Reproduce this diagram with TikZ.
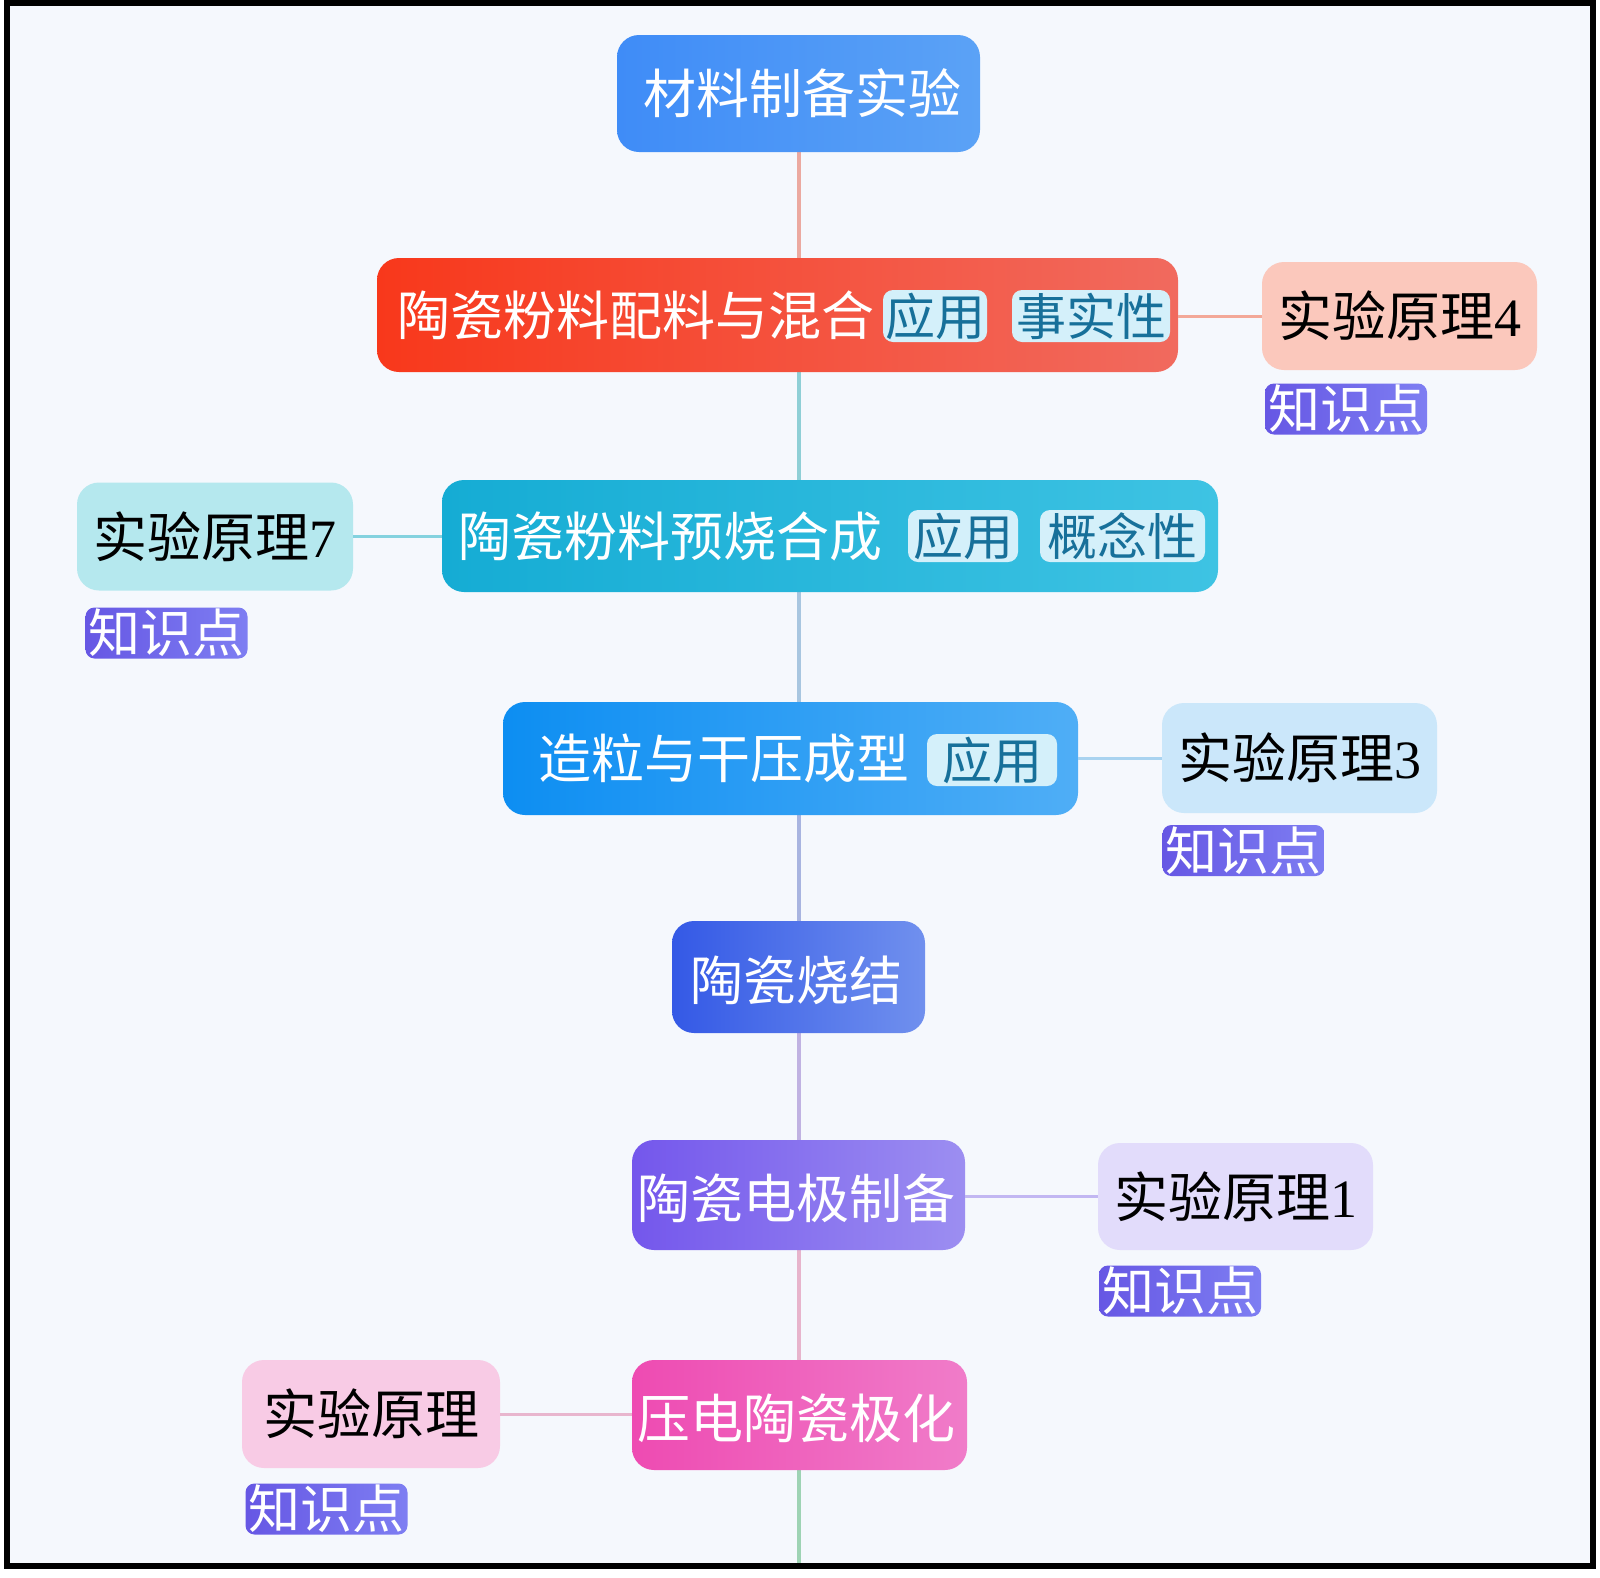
\documentclass[tikz,border=0pt]{standalone}
\usepackage{fontspec}
\setmainfont{Liberation Serif}
\newfontfamily\cjk{Noto Sans CJK SC}
\definecolor{bgc}{HTML}{F5F8FD}
\definecolor{tagfill}{HTML}{D4F0FA}
\definecolor{tagtext}{HTML}{17709A}
\definecolor{kfillA}{HTML}{6657E4}
\definecolor{kfillB}{HTML}{7E7EF2}
\definecolor{topA}{HTML}{3F8CF7}\definecolor{topB}{HTML}{5BA2F6}
\definecolor{aA}{HTML}{F8381B}\definecolor{aB}{HTML}{F16A5E}
\definecolor{bA}{HTML}{15ACD4}\definecolor{bB}{HTML}{3EC3E3}
\definecolor{cA}{HTML}{0D8EF2}\definecolor{cB}{HTML}{4FAEF6}
\definecolor{dA}{HTML}{3459E6}\definecolor{dB}{HTML}{7090EE}
\definecolor{eA}{HTML}{7457EC}\definecolor{eB}{HTML}{9C8EF1}
\definecolor{fA}{HTML}{EE4BB2}\definecolor{fB}{HTML}{F07CC9}
\definecolor{p4c}{HTML}{FBC8BC}\definecolor{p7c}{HTML}{B5E8EE}
\definecolor{p3c}{HTML}{CBE7FA}\definecolor{p1c}{HTML}{E2DCFB}
\definecolor{p0c}{HTML}{F8CBE5}
\definecolor{s1}{HTML}{EBA9A0}\definecolor{s2}{HTML}{8FCFD6}
\definecolor{s3}{HTML}{A8C6E0}\definecolor{s4}{HTML}{A8B4E0}
\definecolor{s5}{HTML}{C0B2E2}\definecolor{s6}{HTML}{E7B4CC}
\definecolor{s7}{HTML}{9ED3B4}
\definecolor{l4}{HTML}{F3A898}\definecolor{l7}{HTML}{84D2DF}
\definecolor{l3}{HTML}{A9D3F0}\definecolor{l1}{HTML}{C2B7F2}
\definecolor{l0}{HTML}{E8B6CE}
\tikzset{
  mainbox/.style={rounded corners=22pt, inner sep=0pt, draw=none},
  sidebox/.style={rounded corners=22pt, inner sep=0pt, draw=none, minimum width=275pt, minimum height=108pt, text=black,
     font=\fontsize{54}{54}\selectfont},
  maintext/.style={text=white, inner sep=0pt, font=\fontsize{53}{53}\selectfont\cjk},
  tagbox/.style={rounded corners=10pt, inner sep=0pt, fill=tagfill, text=tagtext, minimum height=52pt,
     font=\fontsize{50}{50}\selectfont\cjk},
  kbox/.style={rounded corners=9pt, inner sep=0pt, left color=kfillA, right color=kfillB, text=white,
     minimum width=162pt, minimum height=51pt, font=\fontsize{52}{52}\selectfont\cjk},
  spine/.style={line width=4pt},
  link/.style={line width=3pt},
}
\begin{document}
\begin{tikzpicture}[x=1pt,y=-1pt]
\useasboundingbox (0,0) rectangle (1600,1577);
\fill[white] (0,0) rectangle (1600,1577);
\fill[bgc] (6.5,3) rectangle (1593,1566);
\coordinate (sx) at (799,0);
\coordinate (bot) at (799,1563);
% spine
\draw[spine, s1] (sx |- 0,150) -- (sx |- 0,260);
\draw[spine, s2] (sx |- 0,370) -- (sx |- 0,482);
\draw[spine, s3] (sx |- 0,590) -- (sx |- 0,704);
\draw[spine, s4] (sx |- 0,813) -- (sx |- 0,923);
\draw[spine, s5] (sx |- 0,1031) -- (sx |- 0,1142);
\draw[spine, s6] (sx |- 0,1248) -- (sx |- 0,1362);
\draw[spine, s7] (sx |- 0,1468) -- (bot);
% nodes
\node[mainbox, left color=topA, right color=topB, minimum width=363pt, minimum height=117pt] (top) at (798.5,93.5) {};
\node[maintext] (topt) at (802,93.5) {材料制备实验};

\node[mainbox, left color=aA, right color=aB, minimum width=801pt, minimum height=114pt] (n1) at (777.5,315) {};
\node[maintext] (n1t) at (636,315) {陶瓷粉料配料与混合};
\node[tagbox, minimum width=104pt] (n1a) at (935,316) {应用};
\node[tagbox, minimum width=158pt] (n1b) at (1091,316) {事实性};

\node[sidebox, fill=p4c] (p4) at (1399.5,316) {{\cjk 实验原理}4};
\node[kbox] (k4) at (1346,409) {知识点};

\node[mainbox, left color=bA, right color=bB, minimum width=776pt, minimum height=112pt] (n2) at (830,536) {};
\node[maintext] (n2t) at (670,536) {陶瓷粉料预烧合成};
\node[tagbox, minimum width=110pt] (n2a) at (963,536) {应用};
\node[tagbox, minimum width=165pt] (n2b) at (1122.5,536) {概念性};

\node[sidebox, fill=p7c, minimum width=276pt] (p7) at (215,536.5) {{\cjk 实验原理}7};
\node[kbox] (k7) at (166.5,633) {知识点};

\node[mainbox, left color=cA, right color=cB, minimum width=575pt, minimum height=113pt] (n3) at (790.5,758.5) {};
\node[maintext] (n3t) at (724,758.5) {造粒与干压成型};
\node[tagbox, minimum width=130pt] (n3a) at (992,760) {应用};

\node[sidebox, fill=p3c, minimum height=110pt] (p3) at (1299.5,758) {{\cjk 实验原理}3};
\node[kbox] (k3) at (1243.5,850.5) {知识点};

\node[mainbox, left color=dA, right color=dB, minimum width=253pt, minimum height=112pt] (n4) at (798.5,977) {};
\node[maintext] (n4t) at (796,980) {陶瓷烧结};

\node[mainbox, left color=eA, right color=eB, minimum width=333pt, minimum height=110pt] (n5) at (798.5,1195) {};
\node[maintext] (n5t) at (796,1198) {陶瓷电极制备};

\node[sidebox, fill=p1c, minimum height=107pt] (p1) at (1235.5,1196.5) {{\cjk 实验原理}1};
\node[kbox] (k1) at (1180,1291) {知识点};

\node[mainbox, left color=fA, right color=fB, minimum width=335pt, minimum height=110pt] (n6) at (799.5,1415) {};
\node[maintext] (n6t) at (796,1418) {压电陶瓷极化};

\node[sidebox, fill=p0c, minimum width=258pt] (p0) at (371,1414) {\cjk 实验原理};
\node[kbox] (k0) at (326.5,1509) {知识点};

% side links
\draw[link, l4] (n1.east |- p4.west) -- (p4.west);
\draw[link, l7] (p7.east) -- (n2.west |- p7.east);
\draw[link, l3] (n3.east |- p3.west) -- (p3.west);
\draw[link, l1] (n5.east |- p1.west) -- (p1.west);
\draw[link, l0] (p0.east) -- (n6.west |- p0.east);
% frame
\draw[line width=6pt, black] (6.5,3) rectangle (1593,1566);
\end{tikzpicture}
\end{document}
